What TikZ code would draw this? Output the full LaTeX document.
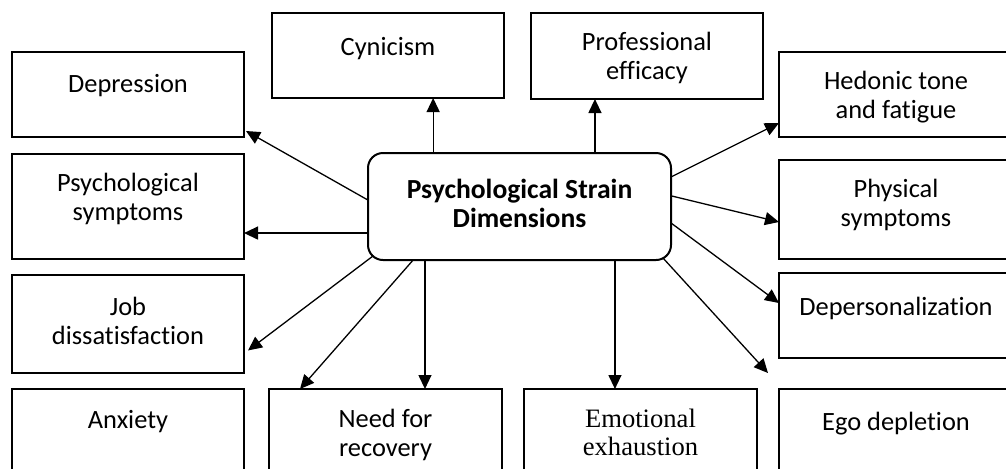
\documentclass[tikz,border=0pt]{standalone}
\usepackage{fontspec}
\setmainfont{Carlito}[Ligatures=NoCommon]
\newfontfamily\tnr{Liberation Serif}
\usetikzlibrary{arrows.meta,calc}
\newcommand\bx[7]{\node[box] (#1) at (#2,#3) {\parbox[t][\dimexpr#5pt/2\relax][t]{\dimexpr#4pt/2\relax}{\centering\rule{0pt}{\dimexpr#6pt/2\relax}#7}};}
\begin{document}
\begin{tikzpicture}[x=0.5pt,y=-0.5pt,
  box/.style={draw, line width=1pt, inner sep=0pt, outer sep=0pt, anchor=north west, font=\fontsize{13.2}{14.7}\selectfont},
  cbox/.style={box, rounded corners=7.5pt},
  arr/.style={line width=0.65pt, -{Triangle[length=7pt,width=6.5pt]}}]
\useasboundingbox (0,0) rectangle (1006,468);
\clip (0,0) rectangle (1006,468);
\bx{dep}{12}{52}{232}{85}{40}{Depression}
\bx{cyn}{272}{13}{232}{85}{42}{Cynicism}
\bx{prof}{531}{13}{232}{86}{37}{Professional\\efficacy}
\bx{hed}{779}{52}{234}{85}{37}{Hedonic tone\\and fatigue}
\bx{psy}{12}{154}{232}{105}{37}{Psychological\\symptoms}
\bx{phy}{779}{160}{234}{99}{37}{Physical\\symptoms}
\bx{job}{12}{275}{232}{98}{40}{Job\\dissatisfaction}
\bx{depers}{779}{273}{234}{85}{42}{Depersonalization}
\bx{anx}{12}{389}{232}{90}{39}{Anxiety}
\bx{need}{269}{389}{233}{90}{38}{Need for\\recovery}
\bx{emo}{524}{389}{233}{90}{38}{\tnr\fontsize{13.3}{14}\selectfont Emotional\\exhaustion}
\bx{ego}{779}{389}{234}{90}{41}{Ego depletion}
\node[cbox] (c) at (368,153) {\parbox[t][53.5pt][t]{151.5pt}{\centering\bfseries\fontsize{13.8}{14.5}\selectfont\rule{0pt}{22.5pt}Psychological Strain\\Dimensions}};
\coordinate (egoend) at ($(ego.north west)+(-11,-16)$);
\draw[arr] ($(c.north west)!0.215!(c.north east)$) coordinate (s1) -- (s1 |- cyn.south);
\draw[arr] ($(c.north west)!0.749!(c.north east)$) coordinate (s2) -- (s2 |- prof.south);
\draw[arr] ($(c.north west)!0.44!(c.south west)$) -- ($(dep.south east)+(2,-6)$);
\draw[arr] ($(c.north west)!0.748!(c.south west)$) coordinate (s4) -- (s4 -| psy.east);
\draw[arr] ($(c.south west)+(5,-4)$) -- ($(job.north east)!0.77!(job.south east)+(4,0)$);
\draw[arr] ($(c.south west)!0.149!(c.south east)$) -- ($(need.north west)!0.133!(need.north east)$);
\draw[arr] ($(c.south west)!0.188!(c.south east)$) coordinate (s7) -- (s7 |- need.north);
\draw[arr] ($(c.south west)!0.815!(c.south east)$) coordinate (s8) -- (s8 |- emo.north);
\draw[arr] ($(c.south east)+(-8,-2)$) -- (egoend);
\draw[arr] ($(c.north east)!0.654!(c.south east)$) -- ($(depers.north west)!0.353!(depers.south west)$);
\draw[arr] ($(c.north east)!0.40!(c.south east)$) -- ($(phy.north west)!0.626!(phy.south west)$);
\draw[arr] ($(c.north east)!0.224!(c.south east)$) -- ($(hed.north west)!0.835!(hed.south west)$);
\end{tikzpicture}
\end{document}
